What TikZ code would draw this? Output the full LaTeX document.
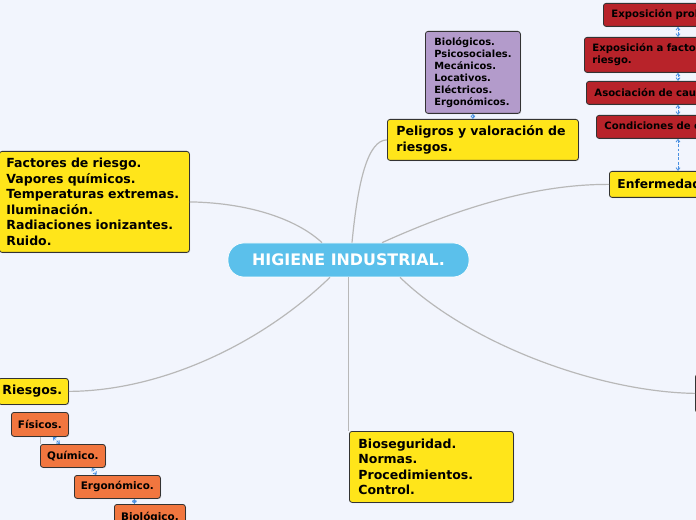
\documentclass[tikz,border=0pt]{standalone}
\usepackage{fontspec}
\setmainfont{DejaVu Sans}
\usetikzlibrary{arrows.meta,shadows,calc}
\definecolor{bgc}{HTML}{F2F5FD}
\definecolor{ylw}{HTML}{FFE51A}
\definecolor{redb}{HTML}{B8232A}
\definecolor{orng}{HTML}{F1763F}
\definecolor{purp}{HTML}{B39BCB}
\definecolor{cblue}{HTML}{5BC0EB}
\definecolor{lnk}{HTML}{B8B8B8}
\definecolor{dash}{HTML}{4A90E2}
\tikzset{
  box/.style={draw=black!80, line width=0.6pt, rounded corners=2pt, anchor=north west, align=left,
    inner ysep=0pt, drop shadow={shadow xshift=0.6pt, shadow yshift=-0.6pt, opacity=0.35}},
  ybox/.style={box, fill=ylw, font=\bfseries\fontsize{9.4}{11.6}\selectfont},
  rbox/.style={box, fill=redb, font=\bfseries\fontsize{7.6}{9}\selectfont, inner xsep=6pt},
  obox/.style={box, fill=orng, align=center, inner xsep=0pt, font=\bfseries\fontsize{7.8}{9}\selectfont},
  pbox/.style={box, fill=purp, font=\bfseries\fontsize{7.4}{9}\selectfont, inner xsep=6.75pt},
  link/.style={draw=lnk, line width=0.9pt},
  dlink/.style={draw=dash, line width=0.6pt, dash pattern=on 2pt off 1.3pt,
    {Straight Barb[length=2pt,width=3pt]}-{Straight Barb[length=2pt,width=3pt]}}
}
\begin{document}
\begin{tikzpicture}[x=0.75pt,y=-0.75pt]
\useasboundingbox (0,0) rectangle (696,520);
\fill[bgc] (0,0) rectangle (696,520);
\clip (0,0) rectangle (696,520);

% central node
\node[fill=cblue, draw=white, line width=0.5pt, rounded corners=12pt, minimum width=180.75pt, minimum height=25.5pt,
  text=white, font=\bfseries\fontsize{11.9}{13}\selectfont, inner sep=0pt] (c) at (348.5,260) {HIGIENE INDUSTRIAL.};

% purple
\node[pbox, text width=57.75pt, minimum height=61.5pt] (pu) at (425,31)
  {Biológicos.\\Psicosociales.\\Mecánicos.\\Locativos.\\Eléctricos.\\Ergonómicos.};
% peligros
\node[ybox, inner xsep=6.75pt, text width=129.75pt, minimum height=30.75pt, font=\bfseries\fontsize{9.4}{12}\selectfont] (pe) at (387,119)
  {Peligros y valoración de\\riesgos.};

% red column
\node[rbox, text width=140pt, minimum height=17.25pt] (r1) at (603,3) {Exposición prolongada.};
\node[rbox, text width=140pt, minimum height=26.25pt] (r2) at (584,37) {Exposición a factores de\\riesgo.};
\node[rbox, text width=140pt, minimum height=17.25pt] (r3) at (586,81) {Asociación de causalidad.};
\node[rbox, text width=140pt, minimum height=17.25pt] (r4) at (596,115) {Condiciones de exposición.};
\node[ybox, inner xsep=6pt, text width=120pt, minimum height=19.5pt, font=\bfseries\fontsize{9.2}{10}\selectfont] (en) at (609,171) {Enfermedad laboral.};

% left
\node[ybox, inner xsep=5.25pt, text width=132pt, minimum height=75.75pt] (lf) at (-1,151)
  {Factores de riesgo.\\Vapores químicos.\\Temperaturas extremas.\\Iluminación.\\Radiaciones ionizantes.\\Ruido.};
\node[ybox, inner xsep=3pt, text width=46.5pt, minimum height=19.5pt] (ri) at (-2,378) {Riesgos.};

% orange
\node[obox, minimum width=42.75pt, minimum height=18pt] (o1) at (11,412) {Físicos.};
\node[obox, minimum width=48.75pt, minimum height=17.25pt] (o2) at (40,444) {Químico.};
\node[obox, minimum width=64.5pt, minimum height=17.25pt] (o3) at (74,475) {Ergonómico.};
\node[obox, minimum width=53.25pt, minimum height=19.5pt] (o4) at (114,504) {Biológico.};

% bottom
\node[ybox, inner xsep=6.75pt, text width=109.5pt, minimum height=53.25pt, font=\bfseries\fontsize{9.4}{11.6}\selectfont] (bt) at (349,431)
  {Bioseguridad.\\Normas.\\Procedimientos.\\Control.};

% right (off page)
\node[ybox, inner xsep=6pt, text width=60pt, minimum height=28.5pt] (rt) at (695,374) {};

% gray links
\draw[link] ($(c.north)+(-26.5,0)$) .. controls (300,222) and (255,203) .. (lf.east);
\draw[link] ($(c.north)+(3.5,0)$) .. controls (358,180) and (368,140) .. (pe.west);
\draw[link] ($(c.north)+(33.5,0)$) .. controls (450,212) and (530,184) .. (en.west);
\draw[link] ($(c.south)+(-18.5,0)$) .. controls (260,345) and (160,391) .. (ri.east);
\draw[link] (c.south) -- (c.south |- bt.north);
\draw[link] ($(c.south)+(51.5,0)$) .. controls (470,345) and (600,392) .. (rt.west);
\draw[link, line width=0.6pt] (o1.south -| o2.north west) -- (o2.north west);

% dashed links
\coordinate (rx) at (678,0);
\draw[dlink] (r1.south -| rx) -- (r2.north -| rx);
\draw[dlink] (r2.south -| rx) -- (r3.north -| rx);
\draw[dlink] (r3.south -| rx) -- (r4.north -| rx);
\draw[dlink] (r4.south -| rx) -- (en.north -| rx);
\draw[dlink] (pu.south) -- (pe.north -| pu.south);
\draw[dlink] ($(o1.south)+(13,0)$) -- ($(o2.north)+(-13,0)$);
\draw[dlink] ($(o2.south)+(19,0)$) -- ($(o3.north)+(-21,0)$);
\draw[dlink] ($(o3.south)+(17,0)$) -- ($(o4.north)+(-15.5,0)$);
\end{tikzpicture}
\end{document}
